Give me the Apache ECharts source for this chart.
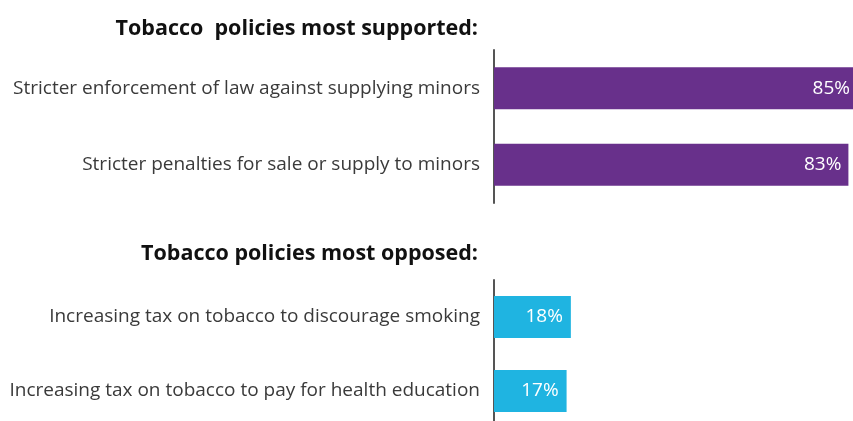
<!DOCTYPE html>
<html>
<head>
<meta charset="utf-8">
<script src="https://cdn.jsdelivr.net/npm/echarts@6/dist/echarts.min.js"></script>
<style>
  html, body { margin: 0; padding: 0; background: #ffffff; overflow: hidden; }
  #chart { width: 930px; height: 440px; }
</style>
</head>
<body>
<div id="chart"></div>
<script>
// Survey results: share of respondents supporting / opposing each tobacco policy
var supportedTitle = 'Tobacco  policies most supported:';
var opposedTitle = 'Tobacco policies most opposed:';

var supportedPolicies = [
  'Stricter enforcement of law against supplying minors',
  'Stricter penalties for sale or supply to minors'
];
var supportedValues = [85, 83];

var opposedPolicies = [
  'Increasing tax on tobacco to discourage smoking',
  'Increasing tax on tobacco to pay for health education'
];
var opposedValues = [18, 17];

var FONT = '"Open Sans", "Noto Sans", sans-serif';
var CHART_W = 930;
var AXIS_X = 494;          // left edge of both plot areas
var TEXT_RIGHT = 480;      // right edge of titles and category labels

var chart = echarts.init(document.getElementById('chart'));

function valueAxis(gridIndex) {
  return {
    type: 'value', gridIndex: gridIndex, min: 0, max: 100,
    show: false
  };
}

function categoryAxis(gridIndex, cats) {
  return {
    type: 'category', gridIndex: gridIndex, data: cats, inverse: true,
    axisLine: { show: true, lineStyle: { color: '#555555', width: 2 } },
    axisTick: { show: false },
    axisLabel: { color: '#3a3a3a', fontSize: 19, fontFamily: FONT, margin: AXIS_X - TEXT_RIGHT }
  };
}

function barSeries(idx, values, color, labelGap) {
  return {
    type: 'bar', xAxisIndex: idx, yAxisIndex: idx, data: values,
    barWidth: 42,
    itemStyle: { color: color },
    label: {
      show: true, position: 'insideRight', distance: labelGap,
      formatter: '{c}%', color: '#ffffff', fontSize: 19, fontFamily: FONT
    },
    silent: true
  };
}

var titleStyle = { fontFamily: FONT, fontWeight: 'bold', fontSize: 21.5, color: '#111111' };

chart.setOption({
  animation: false,
  title: [
    { text: supportedTitle, right: CHART_W - TEXT_RIGHT - 3, top: 13, textStyle: titleStyle },
    { text: opposedTitle, right: CHART_W - TEXT_RIGHT - 3, top: 238, textStyle: titleStyle }
  ],
  grid: [
    { left: AXIS_X, top: 50, width: 427, height: 153 },
    { left: AXIS_X, top: 280, width: 427, height: 148 }
  ],
  xAxis: [valueAxis(0), valueAxis(1)],
  yAxis: [categoryAxis(0, supportedPolicies), categoryAxis(1, opposedPolicies)],
  series: [
    barSeries(0, supportedValues, '#68308b', 7),
    barSeries(1, opposedValues, '#1fb4e1', 8)
  ]
});
</script>
</body>
</html>
